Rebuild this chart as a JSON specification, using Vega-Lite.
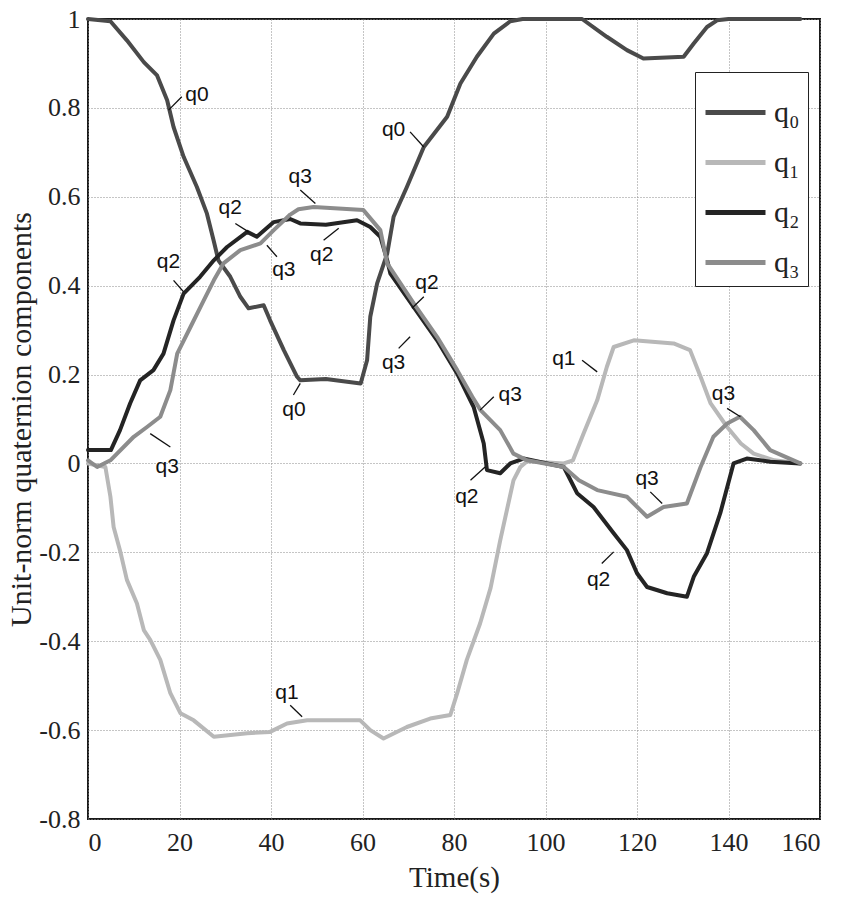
{
  "$schema": "https://vega.github.io/schema/vega-lite/v6.json",
  "width": 732,
  "height": 800,
  "autosize": {"type": "none"},
  "padding": {"left": 88, "top": 19, "right": 28, "bottom": 91},
  "background": "white",
  "config": {
    "view": {"stroke": "#1a1a1a", "strokeWidth": 2}
  },
  "datasets": {
    "series": [
      {"t": 0, "s": "q0", "v": 1}, {"t": 4.9, "s": "q0", "v": 0.995}, {"t": 8.5, "s": "q0", "v": 0.952}, {"t": 12.2, "s": "q0", "v": 0.903}, {"t": 15.1, "s": "q0", "v": 0.873}, {"t": 17.3, "s": "q0", "v": 0.817}, {"t": 18.7, "s": "q0", "v": 0.757}, {"t": 20.9, "s": "q0", "v": 0.69}, {"t": 23.8, "s": "q0", "v": 0.622}, {"t": 26, "s": "q0", "v": 0.562}, {"t": 27.5, "s": "q0", "v": 0.5}, {"t": 28.5, "s": "q0", "v": 0.457}, {"t": 31.1, "s": "q0", "v": 0.42}, {"t": 33.3, "s": "q0", "v": 0.375}, {"t": 35.1, "s": "q0", "v": 0.349}, {"t": 38.4, "s": "q0", "v": 0.356}, {"t": 39.8, "s": "q0", "v": 0.322}, {"t": 42.8, "s": "q0", "v": 0.255}, {"t": 45.7, "s": "q0", "v": 0.195}, {"t": 46.4, "s": "q0", "v": 0.187}, {"t": 52, "s": "q0", "v": 0.19}, {"t": 59.6, "s": "q0", "v": 0.18}, {"t": 61, "s": "q0", "v": 0.232}, {"t": 61.7, "s": "q0", "v": 0.33}, {"t": 63.2, "s": "q0", "v": 0.405}, {"t": 65.4, "s": "q0", "v": 0.472}, {"t": 66.8, "s": "q0", "v": 0.555}, {"t": 69.7, "s": "q0", "v": 0.622}, {"t": 73.4, "s": "q0", "v": 0.712}, {"t": 78.5, "s": "q0", "v": 0.78}, {"t": 81.4, "s": "q0", "v": 0.855}, {"t": 85, "s": "q0", "v": 0.915}, {"t": 88.7, "s": "q0", "v": 0.967}, {"t": 92.3, "s": "q0", "v": 0.995}, {"t": 95, "s": "q0", "v": 1}, {"t": 108, "s": "q0", "v": 1}, {"t": 113.4, "s": "q0", "v": 0.96}, {"t": 117.8, "s": "q0", "v": 0.93}, {"t": 121.4, "s": "q0", "v": 0.911}, {"t": 130.2, "s": "q0", "v": 0.915}, {"t": 132.4, "s": "q0", "v": 0.945}, {"t": 135.3, "s": "q0", "v": 0.982}, {"t": 137.5, "s": "q0", "v": 0.997}, {"t": 140, "s": "q0", "v": 1}, {"t": 155.7, "s": "q0", "v": 1},

      {"t": 0, "s": "q1", "v": 0}, {"t": 3.8, "s": "q1", "v": -0.008}, {"t": 4.9, "s": "q1", "v": -0.075}, {"t": 5.6, "s": "q1", "v": -0.143}, {"t": 7.1, "s": "q1", "v": -0.2}, {"t": 8.5, "s": "q1", "v": -0.262}, {"t": 10.7, "s": "q1", "v": -0.315}, {"t": 12.2, "s": "q1", "v": -0.375}, {"t": 13.6, "s": "q1", "v": -0.397}, {"t": 15.8, "s": "q1", "v": -0.442}, {"t": 18, "s": "q1", "v": -0.517}, {"t": 20.2, "s": "q1", "v": -0.562}, {"t": 23.1, "s": "q1", "v": -0.578}, {"t": 27.5, "s": "q1", "v": -0.615}, {"t": 34.8, "s": "q1", "v": -0.607}, {"t": 39.8, "s": "q1", "v": -0.604}, {"t": 43.5, "s": "q1", "v": -0.585}, {"t": 47.9, "s": "q1", "v": -0.578}, {"t": 59.5, "s": "q1", "v": -0.578}, {"t": 61.7, "s": "q1", "v": -0.6}, {"t": 64.6, "s": "q1", "v": -0.619}, {"t": 69.7, "s": "q1", "v": -0.593}, {"t": 74.8, "s": "q1", "v": -0.574}, {"t": 79.2, "s": "q1", "v": -0.566}, {"t": 80.7, "s": "q1", "v": -0.517}, {"t": 82.8, "s": "q1", "v": -0.442}, {"t": 85.7, "s": "q1", "v": -0.36}, {"t": 88, "s": "q1", "v": -0.28}, {"t": 90.1, "s": "q1", "v": -0.173}, {"t": 93, "s": "q1", "v": -0.038}, {"t": 94.5, "s": "q1", "v": -0.008}, {"t": 96, "s": "q1", "v": 0.005}, {"t": 104, "s": "q1", "v": 0}, {"t": 106, "s": "q1", "v": 0.007}, {"t": 108.3, "s": "q1", "v": 0.067}, {"t": 111.3, "s": "q1", "v": 0.142}, {"t": 113.4, "s": "q1", "v": 0.217}, {"t": 114.9, "s": "q1", "v": 0.262}, {"t": 119.3, "s": "q1", "v": 0.277}, {"t": 128, "s": "q1", "v": 0.27}, {"t": 131.6, "s": "q1", "v": 0.255}, {"t": 133.9, "s": "q1", "v": 0.195}, {"t": 136.1, "s": "q1", "v": 0.135}, {"t": 139.7, "s": "q1", "v": 0.082}, {"t": 142.7, "s": "q1", "v": 0.045}, {"t": 145.5, "s": "q1", "v": 0.022}, {"t": 150, "s": "q1", "v": 0.007}, {"t": 155.7, "s": "q1", "v": 0},

      {"t": 0, "s": "q2", "v": 0.03}, {"t": 5, "s": "q2", "v": 0.03}, {"t": 7, "s": "q2", "v": 0.075}, {"t": 9.2, "s": "q2", "v": 0.135}, {"t": 11.4, "s": "q2", "v": 0.187}, {"t": 14.3, "s": "q2", "v": 0.21}, {"t": 16.5, "s": "q2", "v": 0.247}, {"t": 18.7, "s": "q2", "v": 0.322}, {"t": 20.9, "s": "q2", "v": 0.382}, {"t": 24.5, "s": "q2", "v": 0.42}, {"t": 27.5, "s": "q2", "v": 0.457}, {"t": 30.4, "s": "q2", "v": 0.487}, {"t": 34.8, "s": "q2", "v": 0.521}, {"t": 36.9, "s": "q2", "v": 0.51}, {"t": 40.6, "s": "q2", "v": 0.543}, {"t": 44.2, "s": "q2", "v": 0.55}, {"t": 46.4, "s": "q2", "v": 0.54}, {"t": 52, "s": "q2", "v": 0.537}, {"t": 58.8, "s": "q2", "v": 0.547}, {"t": 61.7, "s": "q2", "v": 0.532}, {"t": 63.9, "s": "q2", "v": 0.51}, {"t": 65.4, "s": "q2", "v": 0.457}, {"t": 66.1, "s": "q2", "v": 0.427}, {"t": 71.2, "s": "q2", "v": 0.352}, {"t": 76.3, "s": "q2", "v": 0.277}, {"t": 80.7, "s": "q2", "v": 0.202}, {"t": 84.3, "s": "q2", "v": 0.127}, {"t": 86.5, "s": "q2", "v": 0.045}, {"t": 87.2, "s": "q2", "v": -0.015}, {"t": 90.1, "s": "q2", "v": -0.022}, {"t": 92.3, "s": "q2", "v": 0}, {"t": 95.2, "s": "q2", "v": 0.011}, {"t": 104, "s": "q2", "v": -0.008}, {"t": 106.9, "s": "q2", "v": -0.067}, {"t": 110.5, "s": "q2", "v": -0.098}, {"t": 114.9, "s": "q2", "v": -0.157}, {"t": 117.8, "s": "q2", "v": -0.195}, {"t": 120, "s": "q2", "v": -0.247}, {"t": 122.2, "s": "q2", "v": -0.278}, {"t": 126.6, "s": "q2", "v": -0.292}, {"t": 130.9, "s": "q2", "v": -0.3}, {"t": 132.4, "s": "q2", "v": -0.255}, {"t": 135.3, "s": "q2", "v": -0.202}, {"t": 138.2, "s": "q2", "v": -0.112}, {"t": 141.1, "s": "q2", "v": 0}, {"t": 144, "s": "q2", "v": 0.011}, {"t": 149.1, "s": "q2", "v": 0.004}, {"t": 155.7, "s": "q2", "v": 0},

      {"t": 0, "s": "q3", "v": 0.007}, {"t": 2, "s": "q3", "v": -0.008}, {"t": 4.9, "s": "q3", "v": 0.007}, {"t": 10, "s": "q3", "v": 0.06}, {"t": 12.9, "s": "q3", "v": 0.082}, {"t": 15.8, "s": "q3", "v": 0.105}, {"t": 18, "s": "q3", "v": 0.165}, {"t": 19.5, "s": "q3", "v": 0.247}, {"t": 22.4, "s": "q3", "v": 0.307}, {"t": 25.3, "s": "q3", "v": 0.367}, {"t": 27.5, "s": "q3", "v": 0.412}, {"t": 29.6, "s": "q3", "v": 0.45}, {"t": 33.3, "s": "q3", "v": 0.48}, {"t": 37.7, "s": "q3", "v": 0.495}, {"t": 40.6, "s": "q3", "v": 0.525}, {"t": 44.2, "s": "q3", "v": 0.56}, {"t": 46, "s": "q3", "v": 0.572}, {"t": 49.3, "s": "q3", "v": 0.577}, {"t": 60.2, "s": "q3", "v": 0.57}, {"t": 63.9, "s": "q3", "v": 0.525}, {"t": 65.4, "s": "q3", "v": 0.45}, {"t": 71.2, "s": "q3", "v": 0.36}, {"t": 76.3, "s": "q3", "v": 0.285}, {"t": 80.7, "s": "q3", "v": 0.21}, {"t": 84, "s": "q3", "v": 0.15}, {"t": 85.8, "s": "q3", "v": 0.12}, {"t": 90.1, "s": "q3", "v": 0.075}, {"t": 93, "s": "q3", "v": 0.022}, {"t": 96, "s": "q3", "v": 0.007}, {"t": 104, "s": "q3", "v": -0.008}, {"t": 107.3, "s": "q3", "v": -0.038}, {"t": 111.3, "s": "q3", "v": -0.06}, {"t": 117.8, "s": "q3", "v": -0.075}, {"t": 122.2, "s": "q3", "v": -0.12}, {"t": 125.8, "s": "q3", "v": -0.098}, {"t": 130.9, "s": "q3", "v": -0.09}, {"t": 133.9, "s": "q3", "v": -0.008}, {"t": 136.7, "s": "q3", "v": 0.06}, {"t": 139.7, "s": "q3", "v": 0.09}, {"t": 142.5, "s": "q3", "v": 0.105}, {"t": 145.5, "s": "q3", "v": 0.075}, {"t": 149.1, "s": "q3", "v": 0.03}, {"t": 155.7, "s": "q3", "v": 0}
    ],
    "notes": [
      {"label": "q0", "t": 23.8, "v": 0.829, "t1": 20.5, "v1": 0.825, "t2": 17.6, "v2": 0.795},
      {"label": "q2", "t": 31.1, "v": 0.574, "t1": 32.2, "v1": 0.54, "t2": 35.1, "v2": 0.521},
      {"label": "q3", "t": 42.8, "v": 0.435, "t1": 41.3, "v1": 0.465, "t2": 39.1, "v2": 0.491},
      {"label": "q2", "t": 17.6, "v": 0.454, "t1": 18.7, "v1": 0.412, "t2": 20.9, "v2": 0.386},
      {"label": "q0", "t": 45, "v": 0.12, "t1": 44.9, "v1": 0.154, "t2": 46.4, "v2": 0.18},
      {"label": "q3", "t": 17.3, "v": -0.008, "t1": 18, "v1": 0.037, "t2": 13.6, "v2": 0.067},
      {"label": "q3", "t": 46.4, "v": 0.645, "t1": 46.4, "v1": 0.615, "t2": 49.7, "v2": 0.585},
      {"label": "q2", "t": 51.1, "v": 0.469, "t1": 51.5, "v1": 0.502, "t2": 54.8, "v2": 0.529},
      {"label": "q0", "t": 66.8, "v": 0.75, "t1": 70.4, "v1": 0.746, "t2": 73.4, "v2": 0.712},
      {"label": "q2", "t": 74.1, "v": 0.405, "t1": 73.4, "v1": 0.375, "t2": 70.8, "v2": 0.349},
      {"label": "q3", "t": 66.8, "v": 0.225, "t1": 67.9, "v1": 0.259, "t2": 70.4, "v2": 0.285},
      {"label": "q3", "t": 92.3, "v": 0.154, "t1": 88.7, "v1": 0.15, "t2": 85.7, "v2": 0.12},
      {"label": "q2", "t": 82.8, "v": -0.075, "t1": 83.6, "v1": -0.038, "t2": 86.8, "v2": -0.008},
      {"label": "q1", "t": 43.5, "v": -0.517, "t1": 44.2, "v1": -0.544, "t2": 46.8, "v2": -0.57},
      {"label": "q1", "t": 104, "v": 0.236, "t1": 108, "v1": 0.232, "t2": 111.3, "v2": 0.206},
      {"label": "q3", "t": 122.2, "v": -0.034, "t1": 122.9, "v1": -0.064, "t2": 125.5, "v2": -0.09},
      {"label": "q2", "t": 111.6, "v": -0.263, "t1": 112.3, "v1": -0.225, "t2": 114.9, "v2": -0.199},
      {"label": "q3", "t": 138.9, "v": 0.157, "t1": 139.7, "v1": 0.124, "t2": 142.6, "v2": 0.105}
    ]
  },
  "layer": [
    {
      "data": {"name": "series"},
      "mark": {"type": "line", "strokeWidth": 4, "strokeJoin": "round", "strokeCap": "round"},
      "encoding": {
        "x": {
          "field": "t", "type": "quantitative",
          "scale": {"domain": [0, 160], "nice": false},
          "axis": {
            "values": [0, 20, 40, 60, 80, 100, 120, 140, 160],
            "title": "Time(s)",
            "grid": true, "gridDash": [1, 2], "gridColor": "#8a8a8a", "gridWidth": 1,
            "domain": false, "ticks": false,
            "labelFont": "Liberation Serif", "labelFontSize": 26, "labelColor": "#222", "labelPadding": 10,
            "titleFont": "Liberation Serif", "titleFontSize": 29, "titleFontWeight": "normal", "titleColor": "#222", "titlePadding": 8,
            "encode": {"labels": {"update": {"font": {"value": "Liberation Serif"}, "fontSize": {"value": 26}, "fill": {"value": "#222"}}}}
          }
        },
        "y": {
          "field": "v", "type": "quantitative",
          "scale": {"domain": [-0.8, 1], "nice": false, "zero": false},
          "axis": {
            "values": [-0.8, -0.6, -0.4, -0.2, 0, 0.2, 0.4, 0.6, 0.8, 1],
            "labelExpr": "'' + datum.value",
            "title": "Unit-norm quaternion components",
            "grid": true, "gridDash": [1, 2], "gridColor": "#8a8a8a", "gridWidth": 1,
            "domain": false, "ticks": false,
            "labelFont": "Liberation Serif", "labelFontSize": 26, "labelColor": "#222", "labelPadding": 8,
            "titleFont": "Liberation Serif", "titleFontSize": 30, "titleFontWeight": "normal", "titleColor": "#222", "titlePadding": 2,
            "encode": {"labels": {"update": {"font": {"value": "Liberation Serif"}, "fontSize": {"value": 26}, "fill": {"value": "#222"}}}}
          }
        },
        "color": {
          "field": "s", "type": "nominal",
          "scale": {"domain": ["q0", "q1", "q2", "q3"], "range": ["#4a4a4a", "#b8b8b8", "#242424", "#8c8c8c"]},
          "legend": {
            "title": null,
            "orient": "none",
            "legendX": 607,
            "legendY": 53,
            "direction": "vertical",
            "strokeColor": "#222",
            "fillColor": "white",
            "padding": 8,
            "symbolType": "stroke",
            "symbolSize": 3600,
            "symbolStrokeWidth": 5,
            "rowPadding": 2,
            "labelFont": "Liberation Serif",
            "labelFontSize": 30,
            "labelColor": "#222",
            "labelOffset": 6,
            "labelExpr": "replace(replace(replace(replace(datum.label, '0', '₀'), '1', '₁'), '2', '₂'), '3', '₃')"
          }
        },
        "detail": {"field": "s"},
        "order": {"field": "t", "type": "quantitative"}
      }
    },
    {
      "data": {"name": "notes"},
      "mark": {"type": "rule", "color": "#111", "strokeWidth": 1.3},
      "encoding": {
        "x": {"field": "t1", "type": "quantitative"},
        "y": {"field": "v1", "type": "quantitative"},
        "x2": {"field": "t2"},
        "y2": {"field": "v2"}
      }
    },
    {
      "data": {"name": "notes"},
      "mark": {"type": "text", "font": "Liberation Sans", "fontSize": 21, "color": "#111", "align": "center", "baseline": "middle"},
      "encoding": {
        "x": {"field": "t", "type": "quantitative"},
        "y": {"field": "v", "type": "quantitative"},
        "text": {"field": "label"}
      }
    }
  ]
}
